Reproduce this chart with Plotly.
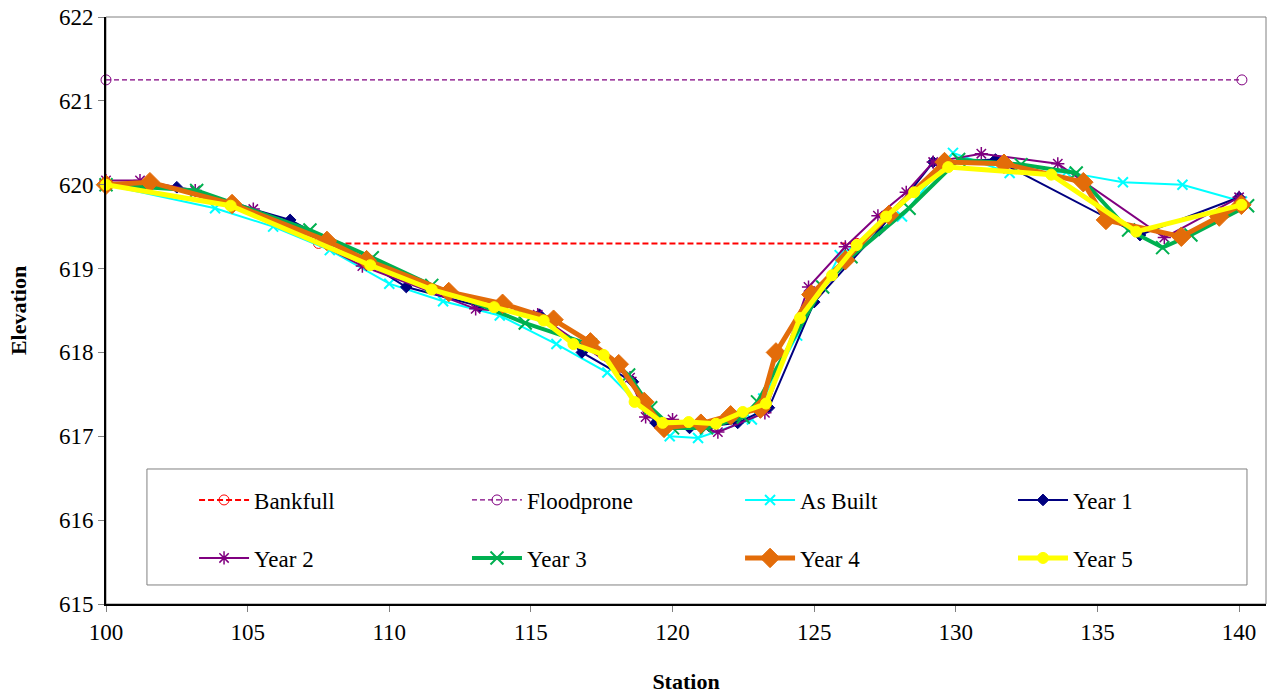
import plotly.graph_objects as go

# ---------------- data ----------------
bankfull_x = [107.5, 126.5]
bankfull_y = [619.3, 619.3]

floodprone_x = [100.0, 140.1]
floodprone_y = [621.25, 621.25]

asbuilt_x = [100.0, 103.85, 105.9, 107.9, 110.0, 111.9, 113.9, 115.9, 117.7, 119.9, 120.9,
             122.8, 123.2, 124.4, 125.9, 128.1, 129.9, 131.9, 133.9, 135.9, 138.0, 140.1]
asbuilt_y = [620.0, 619.72, 619.5, 619.22, 618.82, 618.61, 618.44, 618.1, 617.76, 617.0, 616.98,
             617.2, 617.45, 618.2, 619.16, 619.62, 620.38, 620.14, 620.15, 620.03, 620.0, 619.8]

year1_x = [100.0, 102.5, 106.5, 108.6, 110.6, 113.2, 115.3, 116.8, 118.6, 119.4, 120.6,
           121.3, 122.3, 123.4, 125.0, 127.3, 129.2, 131.4, 136.5, 140.0]
year1_y = [620.0, 619.97, 619.58, 619.2, 618.78, 618.55, 618.45, 618.0, 617.65, 617.16, 617.1,
           617.12, 617.16, 617.34, 618.6, 619.46, 620.27, 620.3, 619.4, 619.85]

year2_x = [100.0, 101.2, 103.15, 105.2, 109.05, 113.05, 115.24, 118.5, 119.05, 120.0, 121.6,
           123.26, 124.8, 126.1, 127.25, 128.25, 129.2, 130.9, 133.6, 137.36, 140.0]
year2_y = [620.05, 620.05, 619.93, 619.71, 619.03, 618.52, 618.45, 617.7, 617.23, 617.2, 617.05,
           617.28, 618.78, 619.26, 619.63, 619.91, 620.27, 620.37, 620.25, 619.37, 619.85]

year3_x = [100.0, 103.2, 107.2, 109.4, 111.5, 114.8, 117.1, 118.45, 119.23, 120.0, 121.2,
           122.5, 123.0, 125.3, 126.3, 128.35, 130.1, 132.3, 134.25, 136.1, 137.3, 138.3, 140.3]
year3_y = [620.0, 619.93, 619.46, 619.13, 618.8, 618.35, 618.09, 617.73, 617.34, 617.1, 617.1,
           617.23, 617.41, 618.78, 619.14, 619.72, 620.3, 620.24, 620.14, 619.46, 619.25, 619.4, 619.75]

year4_x = [100.0, 101.55, 104.45, 107.8, 109.2, 112.1, 114.0, 115.8, 117.1, 118.1, 119.0,
           119.7, 121.0, 122.05, 123.1, 123.65, 124.9, 126.1, 127.64, 129.6, 131.7, 134.5,
           135.3, 137.96, 139.3, 140.08]
year4_y = [620.0, 620.03, 619.77, 619.33, 619.1, 618.72, 618.58, 618.39, 618.12, 617.86, 617.41,
           617.1, 617.15, 617.25, 617.33, 618.0, 618.69, 619.1, 619.64, 620.27, 620.25, 620.03,
           619.58, 619.38, 619.62, 619.76]

year5_x = [100.0, 104.4, 109.33, 111.5, 113.7, 115.45, 116.5, 117.57, 118.66, 119.65, 120.57,
           121.53, 122.48, 123.3, 124.5, 125.63, 126.5, 127.54, 128.53, 129.73, 133.37, 136.37, 140.08]
year5_y = [620.0, 619.75, 619.04, 618.75, 618.54, 618.38, 618.1, 617.97, 617.41, 617.16, 617.17,
           617.15, 617.29, 617.39, 618.41, 618.92, 619.28, 619.62, 619.91, 620.21, 620.12, 619.44, 619.76]

x_ticks = [100, 105, 110, 115, 120, 125, 130, 135, 140]
y_ticks = [615, 616, 617, 618, 619, 620, 621, 622]

FONT = "Liberation Serif"
FS = 23

fig = go.Figure()

def add(name, x, y, color, width, symbol, size, legend, dash=None, mline=1):
    marker = dict(symbol=symbol, size=size, color=color, line=dict(color=color, width=mline))
    fig.add_trace(go.Scatter(
        x=x, y=y, name=name, mode="lines+markers",
        line=dict(color=color, width=width, dash=dash),
        marker=marker, legend=legend, cliponaxis=False))

add("Bankfull", bankfull_x, bankfull_y, "#FF0000", 2, "circle-open", 10, "legend", dash="6px,3px")
add("Floodprone", floodprone_x, floodprone_y, "#800080", 1.3, "circle-open", 10, "legend2", dash="5px,3px")
add("As Built", asbuilt_x, asbuilt_y, "#00FFFF", 2, "x-thin-open", 10, "legend3", mline=2)
add("Year 1", year1_x, year1_y, "#000080", 2, "diamond", 9, "legend4")
add("Year 2", year2_x, year2_y, "#800080", 2, "asterisk-open", 11, "legend5", mline=1.5)
add("Year 3", year3_x, year3_y, "#00B050", 4, "x-thin-open", 13, "legend6", mline=2)
add("Year 4", year4_x, year4_y, "#E36C09", 5, "diamond", 15, "legend7")
add("Year 5", year5_x, year5_y, "#FFFF00", 5, "circle", 11, "legend8")

def leg(x, y):
    return dict(x=x, y=y, xanchor="left", yanchor="middle", orientation="h",
                bgcolor="rgba(0,0,0,0)", borderwidth=0, itemwidth=50, visible=True,
                font=dict(family=FONT, size=FS, color="black"))

col_x = [0.0759, 0.3112, 0.5466, 0.7819]
row_y = [0.1772, 0.0784]

fig.update_layout(
    width=1268, height=698,
    showlegend=True,
    margin=dict(l=106, r=2, t=17, b=94, autoexpand=False),
    paper_bgcolor="white", plot_bgcolor="white",
    font=dict(family=FONT, size=FS, color="black"),
    legend=leg(col_x[0], row_y[0]),
    legend2=leg(col_x[1], row_y[0]),
    legend3=leg(col_x[2], row_y[0]),
    legend4=leg(col_x[3], row_y[0]),
    legend5=leg(col_x[0], row_y[1]),
    legend6=leg(col_x[1], row_y[1]),
    legend7=leg(col_x[2], row_y[1]),
    legend8=leg(col_x[3], row_y[1]),
    xaxis=dict(range=[100, 140.95], tickvals=x_ticks, ticktext=[str(v) for v in x_ticks],
               showgrid=False, zeroline=False, showline=True, linecolor="black", linewidth=2,
               ticks="outside", ticklen=6, tickcolor="#808080", automargin=False,
               tickfont=dict(family=FONT, size=FS),
               title=dict(text="<b>Station</b>", font=dict(family=FONT, size=22), standoff=30)),
    yaxis=dict(range=[615, 622], tickvals=y_ticks, ticktext=[str(v) for v in y_ticks],
               showgrid=False, zeroline=False, showline=True, linecolor="black", linewidth=2,
               ticks="outside", ticklen=6, tickcolor="#808080", automargin=False,
               tickfont=dict(family=FONT, size=FS),
               title=dict(text="<b>Elevation</b>", font=dict(family=FONT, size=22), standoff=26)),
    shapes=[
        dict(type="rect", xref="paper", yref="paper", x0=0, x1=1, y0=0, y1=1,
             line=dict(color="#808080", width=1), layer="below"),
        dict(type="rect", xref="paper", yref="paper", x0=0.0353, x1=0.9836, y0=0.0324, y1=0.23,
             line=dict(color="#808080", width=1), fillcolor="rgba(0,0,0,0)", layer="below"),
    ],
)

fig.write_html("out.html", config={"displayModeBar": False},
               post_script="document.body.style.margin='0';")
